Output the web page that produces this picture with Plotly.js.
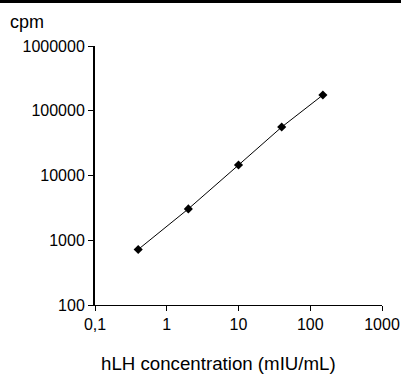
<!DOCTYPE html>
<html>
<head>
<meta charset="utf-8">
<script src="https://cdn.plot.ly/plotly-3.0.1.min.js"></script>
<style>
html,body{margin:0;padding:0;background:#fff;}
#chart{width:401px;height:374px;}
#bar{position:absolute;left:0;top:0;width:401px;height:3px;background:#000;z-index:10;}
</style>
</head>
<body>
<div id="bar"></div>
<div id="chart"></div>
<script>
const concentration = [0.4, 2, 10, 40, 150];
const cpm = [720, 3050, 14500, 56000, 175000];
const xTickVals = [0.1, 1, 10, 100, 1000];
const xTickText = ["0,1", "1", "10", "100", "1000"];
const yTickVals = [100, 1000, 10000, 100000, 1000000];
const yTickText = ["100", "1000", "10000", "100000", "1000000"];

const fam = "Liberation Sans, Arial, sans-serif";
const tickFont = {family: fam, size: 16, color: "#000"};
const titleFont = {family: fam, size: 18, color: "#000"};
const xTitleFont = {family: fam, size: 18.7, color: "#000"};

Plotly.newPlot("chart", [{
  x: concentration,
  y: cpm,
  type: "scatter",
  mode: "lines+markers",
  line: {color: "#000", width: 1},
  marker: {symbol: "diamond", size: 7, color: "#000"},
  showlegend: false
}], {
  width: 401, height: 374,
  margin: {l: 95, r: 18.5, t: 46, b: 69},
  paper_bgcolor: "#fff", plot_bgcolor: "#fff",
  font: tickFont,
  xaxis: {
    type: "log", range: [-1, 3],
    tickvals: xTickVals, ticktext: xTickText,
    ticks: "outside", ticklen: 5, tickwidth: 1, tickcolor: "#000",
    showline: true, linecolor: "#000", linewidth: 1,
    showgrid: false, zeroline: false,
    tickfont: tickFont
  },
  yaxis: {
    type: "log", range: [2, 6],
    tickvals: yTickVals, ticktext: yTickText,
    ticks: "outside", ticklen: 5, tickwidth: 1, tickcolor: "#000",
    showline: true, linecolor: "#000", linewidth: 2,
    showgrid: false, zeroline: false,
    tickfont: tickFont
  },
  annotations: [{
    text: "cpm", xref: "paper", yref: "paper",
    x: -0.302, y: 1.0927, xanchor: "left", yanchor: "middle",
    showarrow: false, font: titleFont
  }, {
    text: "hLH concentration (mIU/mL)", xref: "paper", yref: "paper",
    x: 0.431, y: -0.226, xanchor: "center", yanchor: "middle",
    showarrow: false, font: xTitleFont
  }]
}, {staticPlot: true, displayModeBar: false});
</script>
</body>
</html>
